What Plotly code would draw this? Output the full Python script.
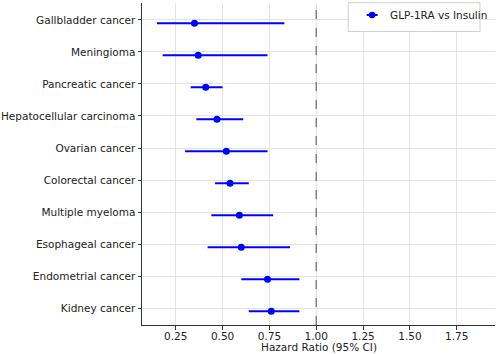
import plotly.graph_objects as go

cancers = ["Kidney cancer", "Endometrial cancer", "Esophageal cancer", "Multiple myeloma",
           "Colorectal cancer", "Ovarian cancer", "Hepatocellular carcinoma",
           "Pancreatic cancer", "Meningioma", "Gallbladder cancer"]
hr = [0.76, 0.74, 0.60, 0.59, 0.54, 0.52, 0.47, 0.41, 0.37, 0.35]
ci_low = [0.64, 0.60, 0.42, 0.44, 0.46, 0.30, 0.36, 0.33, 0.18, 0.15]
ci_high = [0.91, 0.91, 0.86, 0.77, 0.64, 0.74, 0.61, 0.50, 0.74, 0.83]
x_ticks = [0.25, 0.50, 0.75, 1.00, 1.25, 1.50, 1.75]
x_tick_labels = ["0.25", "0.50", "0.75", "1.00", "1.25", "1.50", "1.75"]
series_name = "GLP-1RA vs Insulin"

BLUE = "#0000ff"
FONT = "DejaVu Sans"
W, H = 498, 354
L, R, T, B = 141.5, 3, 3, 29
PW, PH = W - L - R, H - T - B


def px(xp):
    return (xp - L) / PW


def py(yp):
    return (H - B - yp) / PH


y_offset = -0.1
pos = list(range(len(cancers)))
ypos = [p + y_offset for p in pos]

fig = go.Figure()
fig.add_trace(go.Scatter(
    x=hr, y=ypos, mode="markers",
    marker=dict(color=BLUE, size=7),
    error_x=dict(type="data", symmetric=False,
                 array=[h - m for h, m in zip(ci_high, hr)],
                 arrayminus=[m - l for m, l in zip(hr, ci_low)],
                 color=BLUE, thickness=2, width=0),
    showlegend=False, hoverinfo="skip",
))

fig.add_shape(type="line", x0=1.0, x1=1.0, y0=0, y1=1, xref="x", yref="paper",
              line=dict(color="#808080", width=1.5, dash="dash"))

# legend box (drawn manually to match compact matplotlib legend)
fig.add_shape(type="rect", xref="paper", yref="paper",
              x0=px(348), x1=px(480), y0=py(31.5), y1=py(2.7),
              line=dict(color="#d0d0d0", width=1), fillcolor="rgba(255,255,255,0.9)")
fig.add_shape(type="line", xref="paper", yref="paper",
              x0=px(366.5), x1=px(377.5), y0=py(15), y1=py(15),
              line=dict(color=BLUE, width=2))
fig.add_shape(type="circle", xref="paper", yref="paper",
              x0=px(368.7), x1=px(375.3), y0=py(18.3), y1=py(11.7),
              line=dict(color=BLUE, width=0), fillcolor=BLUE)
fig.add_annotation(text=series_name, xref="paper", yref="paper",
                   x=px(387.5), y=py(15), xanchor="left", yanchor="middle",
                   showarrow=False, font=dict(family=FONT, size=10.5, color="#222222"))

# x-axis title
fig.add_annotation(text="Hazard Ratio (95% CI)", xref="paper", yref="paper",
                   x=0.5, y=py(346.5), xanchor="center", yanchor="middle",
                   showarrow=False, font=dict(family=FONT, size=10.5, color="#222222"))

axis_common = dict(showline=True, linecolor="#333333", linewidth=1,
                   ticks="outside", ticklen=3.5, tickcolor="#333333",
                   showgrid=True, gridcolor="#e3e3e3", gridwidth=0.8,
                   zeroline=False, automargin=False,
                   tickfont=dict(family=FONT, size=10.5, color="#222222"))

fig.update_layout(
    width=W, height=H,
    margin=dict(l=L, r=R, t=T, b=B),
    paper_bgcolor="white", plot_bgcolor="white",
    font=dict(family=FONT, size=10.5, color="#222222"),
    showlegend=False,
    xaxis=dict(range=[0.07, 1.954], tickvals=x_ticks, ticktext=x_tick_labels,
               ticklabelstandoff=-2, **axis_common),
    yaxis=dict(range=[-0.53, 9.53], tickvals=pos, ticktext=cancers, **axis_common),
)

fig.write_html("out.html", config={"displayModeBar": False},
               post_script="document.body.style.margin='0';document.body.style.overflow='hidden';")
